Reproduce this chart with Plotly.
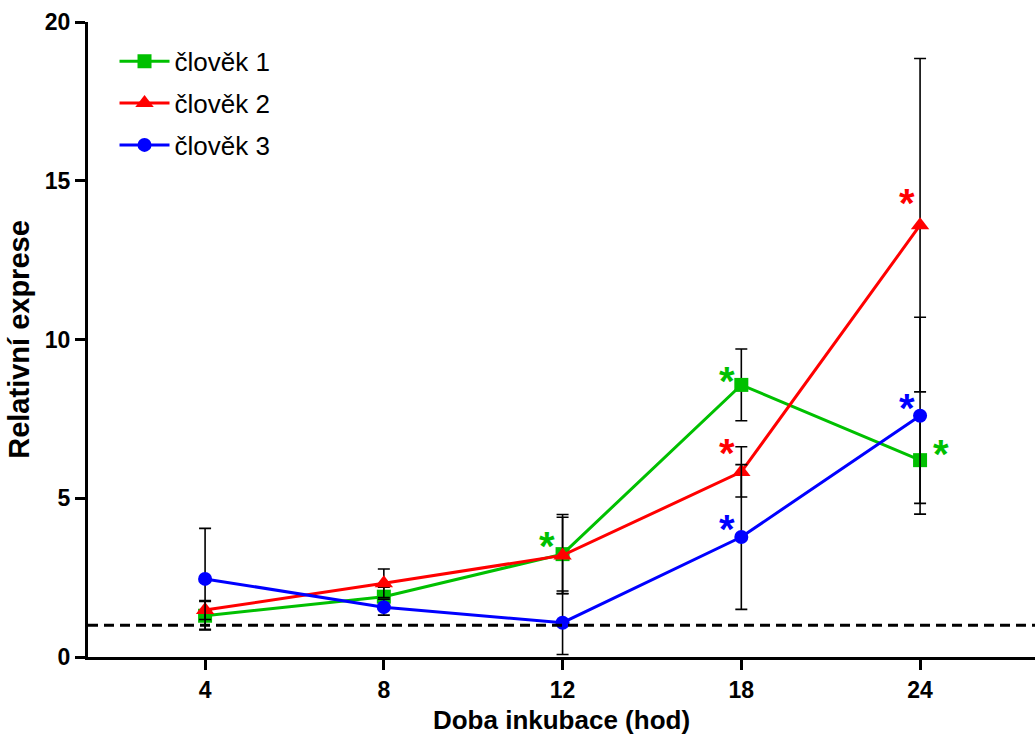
import plotly.graph_objects as go

categories = ["4", "8", "12", "18", "24"]
series_names = ["člověk 1", "člověk 2", "člověk 3"]
human1 = [1.30, 1.90, 3.24, 8.57, 6.20]
human1_err = [0.45, 0.30, 1.25, 1.13, 1.36]
human2 = [1.48, 2.32, 3.20, 5.83, 13.60]
human2_err = [0.30, 0.45, 1.20, 0.79, 5.25]
human3 = [2.46, 1.57, 1.08, 3.78, 7.60]
human3_err = [1.59, 0.25, 1.00, 2.28, 3.10]
baseline = 1.0
y_ticks = [0, 5, 10, 15, 20]

# significance marks: (series index, category, dx px, dy px)
stars = [
    (0, "12", -16, 8),
    (0, "18", -14, 4),
    (1, "18", -14, 19),
    (2, "18", -14, 8),
    (1, "24", -13, 22),
    (2, "24", -13, 8),
    (0, "24", 21, 6),
]

colors = ["#00C000", "#FF0000", "#0000FF"]
symbols = ["square", "triangle-up", "circle"]
msizes = [14, 16, 14]
values = [human1, human2, human3]
errors = [human1_err, human2_err, human3_err]
xpos = list(range(len(categories)))

FONT = "Liberation Sans, Arial, sans-serif"

fig = go.Figure()
for i in range(3):
    fig.add_trace(go.Scatter(
        x=xpos, y=values[i], name=series_names[i],
        mode="lines+markers", legendgroup=str(i),
        line=dict(color=colors[i], width=3),
        marker=dict(symbol=symbols[i], size=msizes[i], color=colors[i]),
        error_y=dict(type="data", array=errors[i], visible=True,
                     color="black", thickness=1.6, width=6),
    ))

fig.add_shape(type="line", xref="paper", yref="y", x0=0, x1=1,
              y0=baseline, y1=baseline,
              line=dict(color="black", width=3, dash="10px,6px"))

for si, cat, dx, dy in stars:
    idx = categories.index(cat)
    fig.add_annotation(x=idx, xref="x", y=values[si][idx], yref="y",
                       text="*", showarrow=False,
                       xshift=dx, yshift=dy,
                       font=dict(family=FONT, size=40, color=colors[si], weight="bold"))

fig.update_layout(
    width=1035, height=740,
    margin=dict(l=88, r=0, t=22, b=83),
    plot_bgcolor="white", paper_bgcolor="white",
    showlegend=True,
    legend=dict(x=0.028, y=0.975, xanchor="left", yanchor="top",
                font=dict(family=FONT, size=26, color="black"),
                tracegroupgap=5, itemwidth=50, bgcolor="rgba(0,0,0,0)"),
    font=dict(family=FONT, color="black"),
)
fig.update_xaxes(
    range=[-0.655, 4.643], tickvals=xpos, ticktext=categories,
    showline=True, linecolor="black", linewidth=3,
    ticks="outside", ticklen=10, tickwidth=3, tickcolor="black",
    tickfont=dict(family=FONT, size=23, color="black", weight="bold"),
    showgrid=False, zeroline=False,
    title=dict(text="Doba inkubace (hod)", standoff=10,
               font=dict(family=FONT, size=26, color="black", weight="bold")),
)
fig.update_yaxes(
    range=[0, 20], tickvals=y_ticks,
    showline=True, linecolor="black", linewidth=3,
    ticks="outside", ticklen=10, tickwidth=3, tickcolor="black",
    tickfont=dict(family=FONT, size=23, color="black", weight="bold"),
    showgrid=False, zeroline=False,
    title=dict(text="Relativní exprese", standoff=7,
               font=dict(family=FONT, size=29, color="black", weight="bold")),
)

fig.write_html("out.html")
